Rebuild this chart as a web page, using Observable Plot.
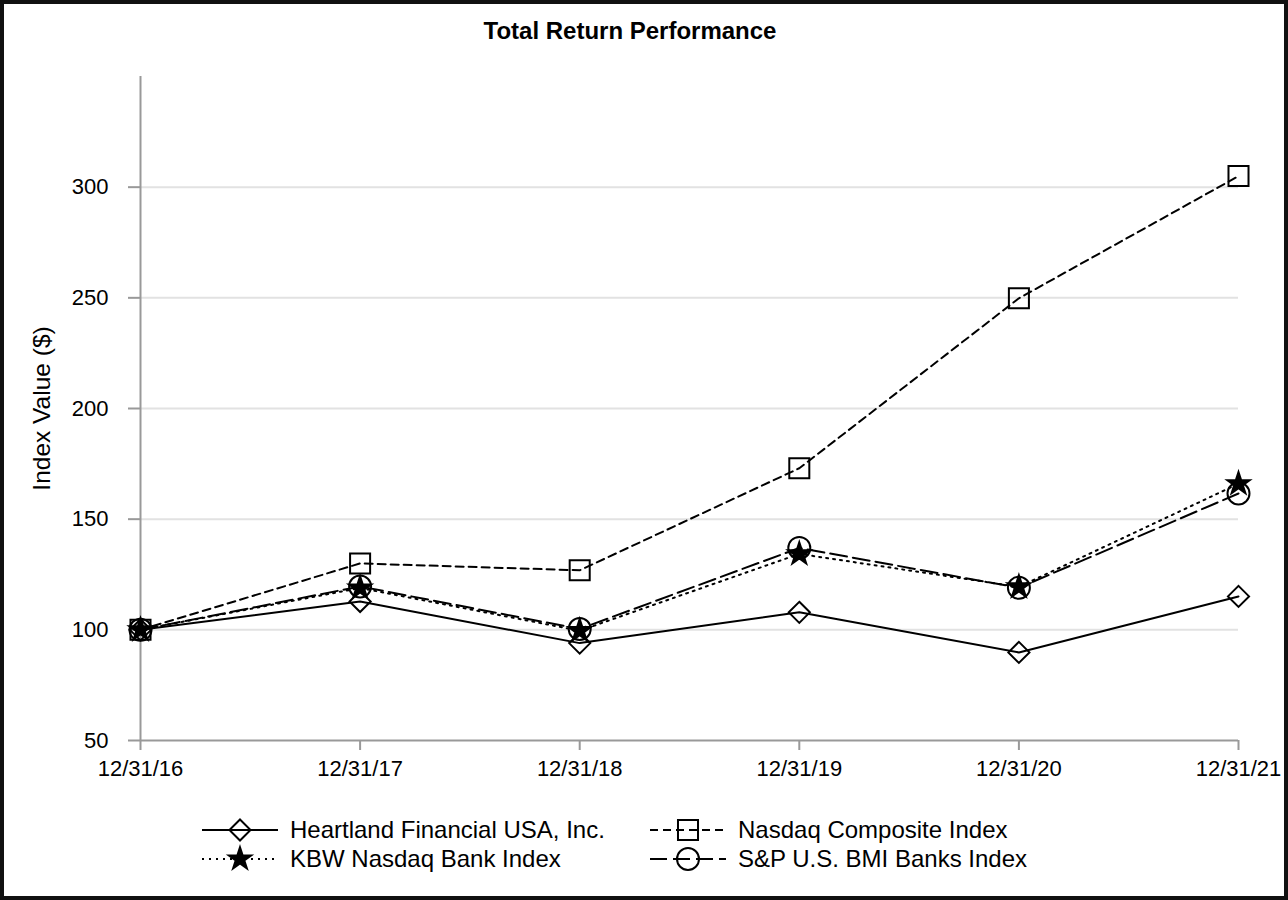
<!DOCTYPE html>
<html>
<head>
<meta charset="utf-8">
<script src="https://cdn.jsdelivr.net/npm/d3@7"></script>
<script src="https://cdn.jsdelivr.net/npm/@observablehq/plot@0.6"></script>
<style>
  html, body { margin: 0; padding: 0; background: #fff; }
  #page { position: relative; width: 1288px; height: 900px; box-sizing: border-box; border: 4px solid #111; overflow: hidden; font-family: "Liberation Sans", Arial, sans-serif; }
  #title { position: absolute; top: 13px; left: 0; width: 1252px; text-align: center; font-weight: bold; font-size: 24px; color: #000; }
  #chart { position: absolute; top: -4px; left: -4px; width: 1288px; height: 800px; }
  #chart svg { max-width: none !important; }
  #legend { position: absolute; top: 793px; left: -4px; width: 1288px; }
</style>
</head>
<body>
<div id="page">
  <div id="title">Total Return Performance</div>
  <div id="chart"></div>
  <div id="legend"></div>
</div>
<script>
const dates = ["12/31/16", "12/31/17", "12/31/18", "12/31/19", "12/31/20", "12/31/21"];
const heartland = [100, 112.8, 94.0, 107.9, 89.8, 115.1];
const nasdaq = [100, 130.0, 126.9, 173.0, 249.8, 305.0];
const kbw = [100, 118.9, 99.6, 134.3, 119.4, 166.0];
const spBanks = [100, 119.6, 100.4, 137.0, 119.0, 161.6];
const yTicks = [50, 100, 150, 200, 250, 300];
const gridTicks = [100, 150, 200, 250, 300];

const seriesNames = ["Heartland Financial USA, Inc.", "Nasdaq Composite Index", "KBW Nasdaq Bank Index", "S&P U.S. BMI Banks Index"];
const seriesValues = [heartland, nasdaq, kbw, spBanks];
const styles = [
  {dash: null, symbol: "diamond2", r: 9.5, fill: "none"},
  {dash: "8,5", symbol: "square", r: 11.3, fill: "none"},
  {dash: "2,5", symbol: "star", r: 7, fill: "black"},
  {dash: "17,6", symbol: "circle", r: 11, fill: "none"}
];

const rows = seriesValues.map((vals, i) => vals.map((v, j) => ({series: seriesNames[i], date: dates[j], value: v})));

const lineMarks = rows.map((r, i) => Plot.line(r, {x: "date", y: "value", stroke: "black", strokeWidth: 2, strokeDasharray: styles[i].dash}));
const dotOrder = [0, 1, 3, 2];
const dotMarks = dotOrder.map(i => Plot.dot(rows[i], {x: "date", y: "value", symbol: styles[i].symbol, r: styles[i].r, stroke: "black", strokeWidth: 2, fill: styles[i].fill}));

const chart = Plot.plot({
  width: 1288,
  height: 800,
  marginLeft: 140,
  marginRight: 50,
  marginTop: 76,
  marginBottom: 60,
  style: {fontFamily: "'Liberation Sans', Arial, sans-serif", fontSize: "22px", color: "#000", background: "transparent", maxWidth: "none"},
  x: {type: "point", domain: dates, padding: 0, round: false},
  y: {domain: [50, 350]},
  marks: [
    Plot.gridY(gridTicks, {stroke: "#e2e2e2", strokeOpacity: 1, strokeWidth: 2}),
    Plot.ruleY([50], {stroke: "#999", strokeWidth: 2}),
    Plot.ruleX([dates[0]], {y1: 50, y2: 350, stroke: "#999", strokeWidth: 2}),
    Plot.axisY({ticks: yTicks, tickSize: 12, tickPadding: 20, stroke: "#999", strokeWidth: 2, label: null}),
    Plot.axisX({tickSize: 10, tickPadding: 10, stroke: "#999", strokeWidth: 2, label: null}),
    Plot.text(["Index Value ($)"], {frameAnchor: "left", textAnchor: "middle", rotate: -90, dx: -98, fontSize: 24.5, fill: "black"}),
    ...lineMarks,
    ...dotMarks
  ]
});
document.getElementById("chart").appendChild(chart);

// Legend
const legendItems = [
  {i: 0, x0: 202, y: 33},
  {i: 1, x0: 650, y: 33},
  {i: 2, x0: 202, y: 62},
  {i: 3, x0: 650, y: 62}
];
const lg = d3.select("#legend").append("svg").attr("width", 1288).attr("height", 100)
  .style("font-family", "'Liberation Sans', Arial, sans-serif");
for (const it of legendItems) {
  const s = styles[it.i];
  const g = lg.append("g");
  g.append("line").attr("x1", it.x0).attr("x2", it.x0 + 76).attr("y1", it.y).attr("y2", it.y)
    .attr("stroke", "black").attr("stroke-width", 2).attr("stroke-dasharray", s.dash);
  const symMap = {diamond2: d3.symbolDiamond2, square: d3.symbolSquare, star: d3.symbolStar, circle: d3.symbolCircle};
  g.append("path").attr("d", d3.symbol(symMap[s.symbol], Math.PI * s.r * s.r)())
    .attr("transform", `translate(${it.x0 + 38},${it.y})`)
    .attr("stroke", "black").attr("stroke-width", 2).attr("fill", s.fill);
  g.append("text").attr("x", it.x0 + 88).attr("y", it.y).attr("dy", "0.35em")
    .attr("font-size", 24).attr("fill", "black").text(seriesNames[it.i]);
}
</script>
</body>
</html>
